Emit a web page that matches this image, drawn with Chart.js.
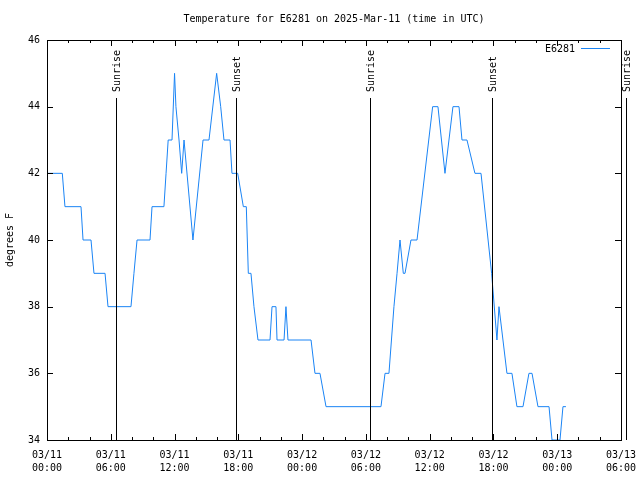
<!DOCTYPE html>
<html>
<head>
<meta charset="utf-8">
<script src="https://cdn.jsdelivr.net/npm/chart.js@4.4.0/dist/chart.umd.min.js"></script>
<style>
  html, body { margin: 0; padding: 0; background: #fff; }
  #wrap { width: 640px; height: 480px; }
</style>
</head>
<body>
<div id="wrap"><canvas id="chart" width="640" height="480"></canvas></div>
<script>
// hours since 03/11 00:00 UTC
const hours = [0, 1.44, 1.69, 3.2, 3.39, 4.14, 4.42, 5.46, 5.74, 7.9, 8.18, 8.47, 9.69, 9.88, 11.0, 11.2, 11.4, 11.76,
    12.0, 12.13, 12.42, 12.67, 12.89, 13.73, 14.68, 15.24, 15.96, 16.34, 16.65, 17.22, 17.4, 17.94, 18.47, 18.75,
    18.94, 19.19, 19.47, 19.85, 20.98, 21.17, 21.54, 21.64, 22.3, 22.48, 22.67, 24.84, 25.21, 25.68, 26.25, 31.42,
    31.8, 32.17, 32.64, 32.93, 33.21, 33.52, 33.68, 34.24, 34.81, 36.28, 36.78, 37.44, 38.19, 38.76, 39.04, 39.51,
    40.26, 40.83, 41.83, 42.33, 42.52, 43.27, 43.74, 44.21, 44.78, 45.34, 45.63, 46.19, 47.23, 47.51, 48.26, 48.54, 48.82];
const temps = [42, 42, 41, 41, 40, 40, 39, 39, 38, 38, 39, 40, 40, 41, 41, 42, 43, 43,
    45, 44, 43, 42, 43, 40, 43, 43, 45, 44, 43, 43, 42, 42, 41, 41,
    39, 39, 38, 37, 37, 38, 38, 37, 37, 38, 37, 37, 36, 36, 35, 35,
    36, 36, 38, 39, 40, 39, 39, 40, 40, 44, 44, 42, 44, 44, 43, 43,
    42, 42, 39, 37, 38, 36, 36, 35, 35, 36, 36, 35, 35, 34, 34, 35, 35];

const xTickLabels = [['03/11', '00:00'], ['03/11', '06:00'], ['03/11', '12:00'], ['03/11', '18:00'], ['03/12', '00:00'],
    ['03/12', '06:00'], ['03/12', '12:00'], ['03/12', '18:00'], ['03/13', '00:00'], ['03/13', '06:00']];
const sunHours = [6.46, 17.81, 30.42, 41.89, 54.44];
const sunLabels = ['Sunrise', 'Sunset', 'Sunrise', 'Sunset', 'Sunrise'];

const seriesName = 'E6281';
const titleText = 'Temperature for E6281 on 2025-Mar-11 (time in UTC)';
const lineColor = '#1a84f5';
const FONT = '10px "DejaVu Sans Mono", monospace';

const points = hours.map((h, i) => ({ x: h, y: temps[i] }));

// frame, inward ticks, sun lines, title, legend
const gnuplotLook = {
    id: 'gnuplotLook',
    afterDraw(chart) {
        const ctx = chart.ctx;
        const area = chart.chartArea;
        const xs = chart.scales.x;
        const ys = chart.scales.y;
        ctx.save();
        ctx.strokeStyle = '#000';
        ctx.lineWidth = 1;
        ctx.beginPath();

        // x ticks, major every 6h, minor every 2h
        for (let h = 0; h <= 54; h += 2) {
            const px = Math.round(xs.getPixelForValue(h)) + 0.5;
            const len = h % 6 === 0 ? 6 : 3;
            ctx.moveTo(px, area.bottom); ctx.lineTo(px, area.bottom - len);
            ctx.moveTo(px, area.top); ctx.lineTo(px, area.top + len);
        }
        // y ticks
        for (let v = 34; v <= 46; v += 2) {
            const py = Math.round(ys.getPixelForValue(v)) + 0.5;
            ctx.moveTo(area.left, py); ctx.lineTo(area.left + 6, py);
            ctx.moveTo(area.right, py); ctx.lineTo(area.right - 6, py);
        }
        ctx.stroke();

        // frame
        ctx.strokeRect(Math.round(area.left) + 0.5, Math.round(area.top) + 0.5,
            Math.round(area.right - area.left), Math.round(area.bottom - area.top));

        // sunrise / sunset
        ctx.font = FONT;
        ctx.fillStyle = '#000';
        sunHours.forEach((h, i) => {
            const px = Math.round(xs.getPixelForValue(h)) + 0.5;
            ctx.beginPath();
            ctx.moveTo(px, 98);
            ctx.lineTo(px, area.bottom);
            ctx.stroke();
            ctx.save();
            ctx.translate(px + 1, 92);
            ctx.rotate(-Math.PI / 2);
            ctx.textAlign = 'left';
            ctx.textBaseline = 'middle';
            ctx.fillText(sunLabels[i], 0, 0);
            ctx.restore();
        });

        // title
        ctx.textAlign = 'center';
        ctx.textBaseline = 'middle';
        ctx.fillText(titleText, 334, 19);

        // y axis title
        ctx.save();
        ctx.translate(10, 240);
        ctx.rotate(-Math.PI / 2);
        ctx.fillText('degrees F', 0, 0);
        ctx.restore();

        // legend
        ctx.textAlign = 'right';
        ctx.fillText(seriesName, 575, 49);
        ctx.strokeStyle = lineColor;
        ctx.beginPath();
        ctx.moveTo(581, 48.5);
        ctx.lineTo(610, 48.5);
        ctx.stroke();
        ctx.restore();
    }
};

new Chart(document.getElementById('chart'), {
    type: 'line',
    data: {
        datasets: [{
            label: seriesName,
            data: points,
            borderColor: lineColor,
            borderWidth: 1,
            pointRadius: 0,
            tension: 0,
            fill: false
        }]
    },
    options: {
        responsive: false,
        animation: false,
        layout: { padding: { top: 40, right: 19, left: 0, bottom: 0 } },
        plugins: { legend: { display: false }, title: { display: false }, tooltip: { enabled: false } },
        scales: {
            x: {
                type: 'linear',
                min: 0,
                max: 54,
                grid: { display: false, drawTicks: false },
                border: { display: false },
                afterFit(scale) {
                    scale.height = 40;
                    scale.paddingLeft = 0;
                    scale.paddingRight = 0;
                },
                afterBuildTicks(scale) {
                    scale.ticks = xTickLabels.map((_, i) => ({ value: i * 6 }));
                },
                ticks: {
                    maxRotation: 0,
                    autoSkip: false,
                    padding: 9,
                    color: '#000',
                    font: { family: '"DejaVu Sans Mono", monospace', size: 10, lineHeight: 1.3 },
                    callback: (value) => xTickLabels[Math.round(value / 6)]
                }
            },
            y: {
                min: 34,
                max: 46,
                grid: { display: false, drawTicks: false },
                border: { display: false },
                afterFit(scale) {
                    scale.width = 47;
                    scale.paddingTop = 0;
                    scale.paddingBottom = 0;
                },
                ticks: {
                    stepSize: 2,
                    padding: 7,
                    color: '#000',
                    font: { family: '"DejaVu Sans Mono", monospace', size: 10 }
                }
            }
        }
    },
    plugins: [gnuplotLook]
});
</script>
</body>
</html>
